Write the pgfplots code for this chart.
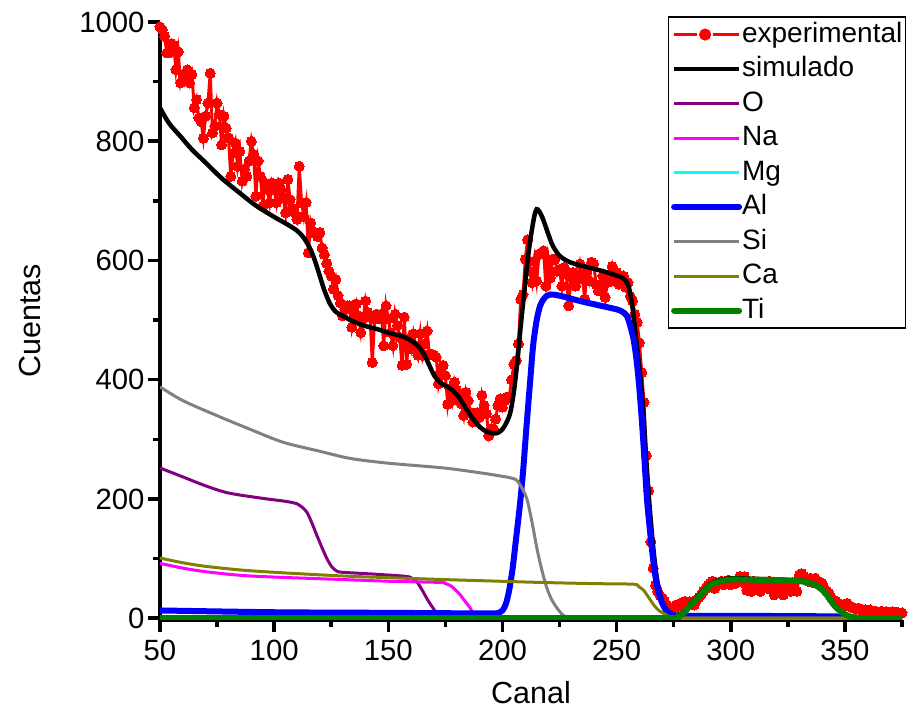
\documentclass[border=0pt]{standalone}
\usepackage{pgfplots}
\pgfplotsset{compat=1.18}
\usepackage{fontspec}
\setmainfont{Liberation Sans}
\definecolor{cPurple}{RGB}{128,0,128}
\definecolor{cMag}{RGB}{255,0,255}
\definecolor{cCyan}{RGB}{0,255,255}
\definecolor{cBlue}{RGB}{0,0,255}
\definecolor{cGrey}{RGB}{128,128,128}
\definecolor{cOlive}{RGB}{128,128,0}
\definecolor{cGreen}{RGB}{0,128,0}
\definecolor{cRed}{RGB}{255,0,0}
\begin{document}
\begin{tikzpicture}
\path[use as bounding box] (-160pt,-99pt) rectangle (748pt,620pt);
\begin{axis}[
  at={(0pt,0pt)}, anchor=south west,
  width=742pt, height=598pt, scale only axis,
  xmin=50, xmax=375, ymin=-3, ymax=1000,
  clip mode=individual,
  axis x line*=bottom, axis y line*=left,
  axis line style={line width=4pt, -},
  tick align=outside,
  major tick length=12pt, minor tick length=7pt,
  major tick style={line width=3.5pt, black},
  minor tick style={line width=3.5pt, black},
  xtick={50,100,...,350}, minor xtick={75,125,...,375},
  ytick={0,200,...,1000}, minor ytick={100,300,...,900},
  /pgf/number format/assume math mode=true,
  /pgf/number format/1000 sep={},
  tick label style={font=\fontsize{29.3}{35}\selectfont},
  xticklabel style={yshift=-5pt},
  label style={font=\fontsize{30.5}{36}\selectfont},
  xlabel={Canal}, ylabel={Cuentas},
  xlabel style={at={(axis description cs:0.5,-0.122)}, anchor=center},
  ylabel style={at={(axis description cs:-0.175,0.5)}, anchor=center},
  legend cell align=left,
  legend image code/.code={\draw[#1] (0pt,0pt) -- (65pt,0pt);},
  legend style={at={(1.0054,1.0092)}, anchor=north east, draw=black, line width=1.2pt,
    fill=white, font=\fontsize{28}{34}\selectfont, inner xsep=3pt, inner ysep=4pt,
    row sep=7.5pt, nodes={inner sep=0pt, text height=21pt, text depth=6pt},
    /tikz/every even column/.style={column sep=6pt}},
]
% experimental
\addplot[color=cRed, line width=3pt, mark=*, mark size=5pt, mark options={solid, fill=cRed, draw=cRed, line width=0pt},
  legend image code/.code={\draw[cRed,line width=3pt] (0pt,0pt)--(23pt,0pt) (39pt,0pt)--(65pt,0pt); \fill[cRed] (31pt,0pt) circle (4.5pt);}]
coordinates {
(50,992)(51,987)(52,976)(53,948)(54,948)(55,964)(56,961)(57,920)(58,950)(59,898)
(60,912)(61,912)(62,920)(63,898)(64,912)(65,856)(66,870)(67,839)(68,833)(69,805)
(70,842)(71,864)(72,914)(73,814)(74,825)(75,864)(76,845)(77,794)(78,842)(79,822)
(80,806)(81,741)(82,780)(83,797)(84,758)(85,783)(86,733)(87,753)(88,741)(89,767)
(90,800)(91,778)(92,708)(93,767)(94,741)(95,691)(96,730)(97,719)(98,697)(99,730)
(100,719)(101,697)(102,730)(103,719)(104,705)(105,680)(106,736)(107,702)(108,688)(109,680)
(110,669)(111,758)(112,697)(113,674)(114,697)(115,613)(116,663)(117,647)(118,647)(119,640)
(120,647)(121,621)(122,610)(123,595)(124,582)(125,574)(126,552)(127,568)(128,541)(129,529)
(130,507)(131,518)(132,524)(133,524)(134,488)(135,510)(136,527)(137,507)(138,479)(139,502)
(140,532)(141,513)(142,505)(143,429)(144,502)(145,510)(146,502)(147,510)(148,457)(149,524)
(150,502)(151,479)(152,457)(153,510)(154,491)(155,471)(156,424)(157,505)(158,426)(159,468)
(160,452)(161,477)(162,457)(163,441)(164,477)(165,441)(166,460)(167,482)(168,443)(169,443)
(170,441)(171,438)(172,393)(173,413)(174,424)(175,407)(176,359)(177,385)(178,365)(179,396)
(180,382)(181,368)(182,360)(183,340)(184,379)(185,365)(186,345)(187,329)(188,337)(189,345)
(190,337)(191,374)(192,357)(193,343)(194,306)(195,318)(196,318)(197,334)(198,357)(199,368)
(200,354)(201,365)(202,371)(203,371)(204,400)(205,426)(206,432)(207,460)(208,535)(209,543)
(210,602)(211,635)(212,582)(213,563)(214,599)(215,566)(216,610)(217,613)(218,616)(219,557)
(220,602)(221,571)(222,602)(223,602)(224,582)(225,585)(226,557)(227,588)(228,577)(229,524)
(230,571)(231,580)(232,557)(233,568)(234,594)(235,574)(236,535)(237,580)(238,566)(239,597)
(240,594)(241,560)(242,549)(243,560)(244,574)(245,538)(246,563)(247,575)(248,590)(249,566)
(250,580)(251,560)(252,570)(253,574)(254,555)(255,563)(256,540)(257,532)(258,510)(259,496)
(260,462)(261,412)(262,362)(263,273)(264,214)(265,128)(266,84)(267,55)(268,45)(269,38)
(270,34)(271,28)(272,22)(273,19)(274,15)(275,18)(276,22)(277,20)(278,25)(279,22)
(280,28)(281,25)(282,28)(283,24)(284,22)(285,30)(286,35)(287,39)(288,45)(289,50)
(290,55)(291,59)(292,62)(293,50)(294,58)(295,59)(296,62)(297,56)(298,59)(299,64)
(300,56)(301,62)(302,58)(303,64)(304,70)(305,60)(306,70)(307,47)(308,55)(309,45)
(310,62)(311,50)(312,58)(313,45)(314,60)(315,52)(316,50)(317,62)(318,55)(319,39)
(320,50)(321,56)(322,48)(323,39)(324,52)(325,56)(326,45)(327,60)(328,48)(329,45)
(330,72)(331,75)(332,70)(333,67)(334,62)(335,67)(336,60)(337,67)(338,62)(339,59)
(340,59)(341,50)(342,45)(343,42)(344,35)(345,30)(346,28)(347,25)(348,22)(349,22)
(350,20)(351,25)(352,20)(353,18)(354,17)(355,15)(356,17)(357,14)(358,12)(359,14)
(360,11)(361,14)(362,10)(363,12)(364,11)(365,10)(366,12)(367,9)(368,11)(369,10)
(370,9)(371,11)(372,8)(373,10)(374,8)(375,9)
};
\addlegendentry{experimental}
% simulado
\addplot[black, line width=4.5pt, smooth] coordinates {
(50,856)(54,830)(59,808)(64,786)(70,764)(77,738)(85,713)(92,692)(100,673)(106,660)(110,650)
(113,638)(116,618)(118,598)(120,574)(122,550)(124.5,527)(127,514)(130,507)(135,497)(140,490)
(145,485)(150,479)(155,474)(159,468)(162,460)(164,452)(166,440)(168,424)(170,408)(172.5,396)
(175,390)(178,383)(181,370)(184,352)(187,335)(190,321)(193,313)(196,310)(198,311)(200,317)
(202,330)(203.5,346)(205,380)(206.5,429)(208,490)(209.5,545)(211,600)(212.5,642)(214,675)
(215,686)(216,683)(217,676)(218,667)(220,645)(222,625)(225,608)(229,598)(233,593)(237,589)
(241,585)(245,581)(249,576)(252,572)(254,566)(255.5,553)(257,520)(258.5,470)(260,420)
(261.5,357)(263,265)(264.5,185)(266,120)(267.5,70)(269,40)(270.5,20)(272,10)(274,5)(277,6)
(280,12)(282.3,24)(284.5,32)(286.7,41)(289,50)(291.1,57)(293,61)(295.5,64)(298,66)(301.3,67)
(310,66)(320,65)(330.5,63)(333,61)(336.3,58)(338.5,53)(340.7,46)(343,35)(345.2,23)(347.3,15)
(349.5,8)(352,3)(355,1)(360,0)(375,0)
};
\addlegendentry{simulado}
% O
\addplot[cPurple, line width=3pt, smooth] coordinates {
(50,252)(60,237)(70,222)(80,210)(95,201)(105,196)(110,192)(112,187)(114.3,178)(116.5,160)
(118.7,139)(121,118)(123.1,100)(125.3,86)(127.5,79)(130,77)(143.5,74)(158.1,70)(160.5,66)
(162.5,61)(164.7,48)(166.9,33)(168.7,22)(170.5,12)(171.8,4)(173,0)(200,0)(375,0)
};
\addlegendentry{O}
% Na
\addplot[cMag, line width=3pt, smooth] coordinates {
(50,92)(60,84)(70,78)(85,72)(100,69)(128.9,65)(150,62)(172.7,60)(175,58)(177.1,55)(179.3,48)
(181.5,39)(183.7,28)(185.9,17)(187.2,7)(188.5,0)(220,0)(375,0)
};
\addlegendentry{Na}
% Mg
\addplot[cCyan, line width=3pt] coordinates {(50,0)(375,0)};
\addlegendentry{Mg}
% Al
\addplot[cBlue, line width=6pt, smooth, line cap=round] coordinates {
(50,13)(100,10)(150,9)(190,8)(196,8)(198.5,9)(200,13)(201.5,24)(203,48)(204.5,85)(206,135)
(207.5,185)(209,245)(210.5,320)(212.2,401)(213.5,460)(215.1,502)(216.5,524)(218,535)(219.5,541)
(221,543)(225,541)
(234,532)(242,525)(250,518)(252.5,514)(254.5,507)(256,490)(257.4,468)(258.5,440)(259.6,401)
(260.7,350)(261.8,290)(263.3,200)(264.8,140)(266.3,89)(267.7,55)(269.2,33)(270.6,20)(272,12)
(274,7)(277,4)(300,4)(345,3)(350,1)(355,0)(375,0)
};
\addlegendentry{Al}
% Si
\addplot[cGrey, line width=3pt, smooth] coordinates {
(50,388)(60,365)(74.8,340)(90,316)(104,295)(120,280)(133.3,268)(150,260)(174.2,252)(190,244)
(200,238)(204,235)(206,232)(208,222)(210.7,200)(213,160)(215.1,117)(217.3,80)(219.5,50)
(221.7,30)(223.9,17)(226,7)(228,2)(230,0)(260,0)(375,0)
};
\addlegendentry{Si}
% Ca
\addplot[cOlive, line width=3pt, smooth] coordinates {
(50,101)(60,93)(70,87)(85,81)(100,77)(128.9,71)(150,68)(172.7,65)(199,62)(216.6,60)(240,58)
(257.4,57)(259.6,53)(261.8,47)(264,35)(266.3,22)(268.5,13)(270.6,8)(273,3)(276,1)(290,0)(375,0)
};
\addlegendentry{Ca}
% Ti
\addplot[cGreen, line width=6pt, smooth, line cap=round] coordinates {
(50,0)(150,0)(250,0)(274,0)(276,1)(278,5)(280,11)(282.3,22)(284.5,30)(286.7,39)(289,48)
(291.1,55)(293,59)(295.5,62)(298,64)(301.3,65)(310,64.5)(320,64)(330.5,62)(333,60)(336.3,57)
(338.5,52)(340.7,45)(343,34)(345.2,22)(347.3,14)(349.5,8)(352,3)(355,1)(358,0)(375,0)
};
\addlegendentry{Ti}
\end{axis}
\end{tikzpicture}
\end{document}
